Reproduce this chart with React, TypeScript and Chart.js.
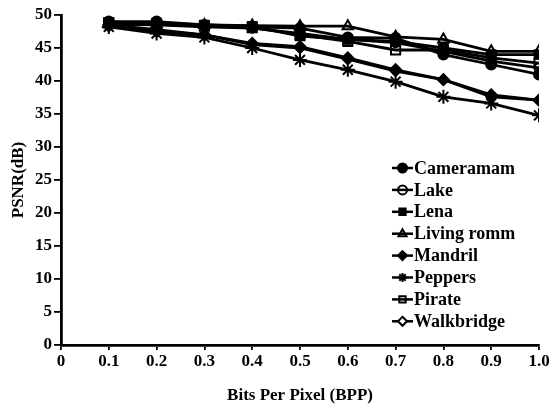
import React, { useEffect, useRef } from 'react';
import { Chart, registerables } from 'chart.js';

Chart.register(...registerables);

const bpp = [0.1, 0.2, 0.3, 0.4, 0.5, 0.6, 0.7, 0.8, 0.9, 1.0];
const xTicks = [0, 0.1, 0.2, 0.3, 0.4, 0.5, 0.6, 0.7, 0.8, 0.9, 1.0];
const yTicks = [0, 5, 10, 15, 20, 25, 30, 35, 40, 45, 50];

const seriesNames = ['Cameramam', 'Lake', 'Lena', 'Living romm', 'Mandril', 'Peppers', 'Pirate', 'Walkbridge'];
const cameramam = [49.0, 49.0, 48.5, 48.2, 48.0, 46.6, 46.5, 44.0, 42.5, 41.0];
const lake = [48.6, 48.5, 48.2, 48.0, 47.2, 46.3, 45.8, 44.5, 43.0, 42.0];
const lena = [48.9, 48.8, 48.5, 48.3, 46.8, 46.3, 46.0, 45.0, 44.0, 44.0];
const livingRomm = [48.6, 48.6, 48.5, 48.4, 48.3, 48.3, 46.7, 46.3, 44.5, 44.5];
const mandril = [48.5, 47.8, 47.0, 45.7, 45.2, 43.5, 41.7, 40.2, 37.9, 37.1];
const peppers = [48.2, 47.2, 46.6, 45.0, 43.2, 41.7, 39.9, 37.6, 36.6, 34.8];
const pirate = [48.8, 48.6, 48.3, 48.1, 47.0, 46.0, 44.7, 44.7, 43.5, 42.7];
const walkbridge = [48.3, 47.5, 47.0, 45.5, 45.0, 43.3, 41.5, 40.2, 37.6, 37.1];

const seriesValues = [cameramam, lake, lena, livingRomm, mandril, peppers, pirate, walkbridge];
const seriesStyles: { style: string; fill: string; r: number }[] = [
  { style: 'circle', fill: '#000', r: 5 },
  { style: 'circle', fill: 'rgba(0,0,0,0)', r: 4.5 },
  { style: 'rect', fill: '#000', r: 6 },
  { style: 'triangle', fill: 'rgba(0,0,0,0)', r: 6 },
  { style: 'rectRot', fill: '#000', r: 5.5 },
  { style: 'star', fill: '#000', r: 7 },
  { style: 'rect', fill: 'rgba(0,0,0,0)', r: 6.5 },
  { style: 'rectRot', fill: '#fff', r: 5 },
];

const FONT = "'Liberation Serif', 'Times New Roman', serif";

function drawMarker(ctx: CanvasRenderingContext2D, style: string, x: number, y: number, r: number, fill: string) {
  ctx.save();
  ctx.beginPath();
  ctx.fillStyle = fill;
  ctx.strokeStyle = '#000';
  ctx.lineWidth = 2;
  if (style === 'circle') {
    ctx.arc(x, y, r, 0, Math.PI * 2);
    ctx.fill();
    ctx.stroke();
  } else if (style === 'rect') {
    const s = r * Math.SQRT1_2 * 2;
    ctx.rect(x - s / 2, y - s / 2, s, s);
    ctx.fill();
    ctx.stroke();
  } else if (style === 'rectRot') {
    ctx.moveTo(x, y - r);
    ctx.lineTo(x + r, y);
    ctx.lineTo(x, y + r);
    ctx.lineTo(x - r, y);
    ctx.closePath();
    ctx.fill();
    ctx.stroke();
  } else if (style === 'triangle') {
    ctx.moveTo(x, y - r);
    ctx.lineTo(x + r * 0.9, y + r * 0.55);
    ctx.lineTo(x - r * 0.9, y + r * 0.55);
    ctx.closePath();
    ctx.fill();
    ctx.stroke();
  } else if (style === 'star') {
    for (let i = 0; i < 4; i++) {
      const a = (i * Math.PI) / 4;
      ctx.moveTo(x + Math.cos(a) * r, y + Math.sin(a) * r);
      ctx.lineTo(x - Math.cos(a) * r, y - Math.sin(a) * r);
    }
    ctx.stroke();
  }
  ctx.restore();
}

const legendPlugin = {
  id: 'customLegend',
  afterDraw(chart: any) {
    const ctx: CanvasRenderingContext2D = chart.ctx;
    const x0 = 392;
    const y0 = 168;
    const step = 21.9;
    ctx.save();
    ctx.font = `bold 18px ${FONT}`;
    ctx.textBaseline = 'middle';
    seriesNames.forEach((name, i) => {
      const y = y0 + i * step;
      ctx.beginPath();
      ctx.strokeStyle = '#000';
      ctx.lineWidth = 2.5;
      ctx.moveTo(x0, y);
      ctx.lineTo(x0 + 21, y);
      ctx.stroke();
      const st = seriesStyles[i];
      drawMarker(ctx, st.style, x0 + 10.5, y, Math.min(st.r, 4.5), st.fill);
      ctx.fillStyle = '#000';
      ctx.fillText(name, x0 + 22, y + 1);
    });
    ctx.restore();
  },
};

export default function App() {
  const canvasRef = useRef<HTMLCanvasElement | null>(null);

  useEffect(() => {
    document.body.style.margin = '0';
    const canvas = canvasRef.current;
    if (!canvas) return;
    const datasets = seriesNames.map((name, i) => ({
      label: name,
      data: bpp.map((x, j) => ({ x, y: seriesValues[i][j] })),
      borderColor: '#000',
      borderWidth: 2.8,
      pointStyle: seriesStyles[i].style,
      pointRadius: seriesStyles[i].r,
      pointBackgroundColor: seriesStyles[i].fill,
      pointBorderColor: '#000',
      pointBorderWidth: 2,
      fill: false,
      tension: 0,
    }));
    const chart = new Chart(canvas, {
      type: 'line',
      data: { datasets },
      plugins: [legendPlugin],
      options: {
        animation: false,
        responsive: false,
        layout: { padding: { top: 15, right: 15, left: 0, bottom: 0 } },
        plugins: { legend: { display: false }, tooltip: { enabled: false } },
        scales: {
          x: {
            type: 'linear',
            min: 0,
            max: 1,
            afterBuildTicks: (scale: any) => {
              scale.ticks = xTicks.map((v) => ({ value: v }));
            },
            afterFit: (scale: any) => {
              scale.height = 63;
            },
            ticks: {
              color: '#000',
              font: { family: FONT, size: 17, weight: 'bold' },
              padding: 1,
              maxRotation: 0,
              autoSkip: false,
              callback: (v: any) => (Number(v) === 0 ? '0' : Number(v).toFixed(1)),
            },
            grid: { drawOnChartArea: false, drawTicks: true, tickLength: 5, color: '#000', lineWidth: 1.8 },
            border: { color: '#000', width: 2.8 },
            title: {
              display: true,
              text: 'Bits Per Pixel (BPP)',
              color: '#000',
              font: { family: FONT, size: 17, weight: 'bold' },
              padding: { top: 0, bottom: 2 },
            },
          },
          y: {
            type: 'linear',
            min: 0,
            max: 50,
            afterBuildTicks: (scale: any) => {
              scale.ticks = yTicks.map((v) => ({ value: v }));
            },
            afterFit: (scale: any) => {
              scale.width = 61;
            },
            ticks: {
              color: '#000',
              font: { family: FONT, size: 17, weight: 'bold' },
              padding: 2,
              autoSkip: false,
            },
            grid: { drawOnChartArea: false, drawTicks: true, tickLength: 7, color: '#000', lineWidth: 1.8 },
            border: { color: '#000', width: 2.8 },
            title: {
              display: true,
              text: 'PSNR(dB)',
              color: '#000',
              font: { family: FONT, size: 17, weight: 'bold' },
              padding: { top: 8, bottom: 0 },
            },
          },
        },
      },
    } as any);
    return () => chart.destroy();
  }, []);

  return (
    <div style={{ width: 554, height: 408, background: '#fff' }}>
      <canvas ref={canvasRef} width={554} height={408} style={{ display: 'block' }} />
    </div>
  );
}
